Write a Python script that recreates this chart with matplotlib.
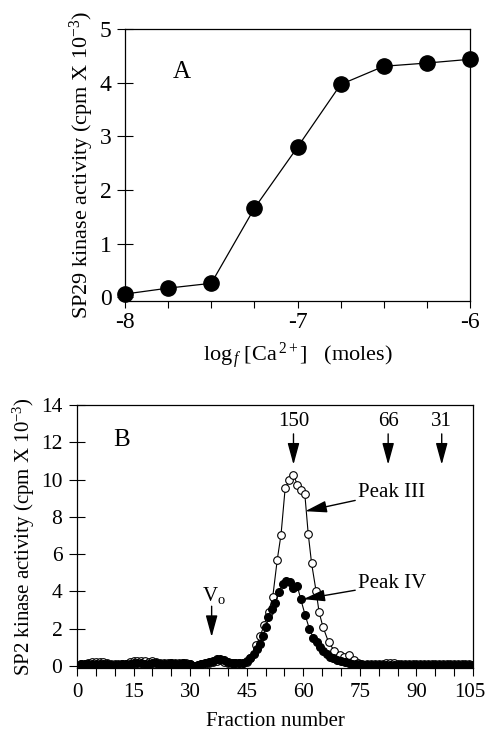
import matplotlib
matplotlib.use('Agg')
import numpy as np
from matplotlib import pyplot as plt
from matplotlib import transforms
from matplotlib.ticker import MultipleLocator

plt.rcParams['font.family'] = ['Liberation Serif', 'DejaVu Serif']
plt.rcParams['mathtext.fontset'] = 'custom'
plt.rcParams['mathtext.rm'] = 'Liberation Serif'
plt.rcParams['mathtext.it'] = 'Liberation Serif:italic'
plt.rcParams['axes.unicode_minus'] = False

# Panel A: SP29 kinase activity vs log free Ca2+
log_ca = [-8.0, -7.75, -7.5, -7.25, -7.0, -6.75, -6.5, -6.25, -6.0]
sp29_activity = [0.06, 0.17, 0.26, 1.66, 2.80, 3.97, 4.31, 4.37, 4.44]

# Panel B: gel filtration profile (fraction number vs activity)
peak3_frac = list(range(1, 47)) + [
    47.5, 48.6, 49.6, 50.8, 51.9, 53.1, 54.1, 55.2, 56.3, 57.4, 58.4, 59.3,
    60.4, 61.3, 62.2, 63.4, 64.2, 65.2, 66.7, 68.2, 69.6, 70.8, 72.1, 73.5,
    74.5, 75.5] + list(range(77, 106))
peak3_act = [
    0.10, 0.10, 0.15, 0.20, 0.20, 0.20, 0.20, 0.18, 0.12, 0.10,
    0.10, 0.10, 0.12, 0.20, 0.25, 0.28, 0.28, 0.25, 0.22, 0.25,
    0.20, 0.18, 0.15, 0.15, 0.18, 0.15, 0.15, 0.18, 0.15, 0.12,
    -0.05, 0.05, 0.10, 0.12, 0.15, 0.20, 0.25, 0.30, 0.22, 0.15,
    0.15, 0.15, 0.15, 0.15, 0.20, 0.40,
    1.10, 1.60, 2.20, 2.90, 3.70, 5.70, 7.05, 9.55, 9.96, 10.26, 9.73, 9.46,
    9.23, 7.10, 5.50, 4.00, 2.87, 2.10, 1.27, 0.82, 0.60, 0.45, 0.58, 0.30,
    0.15, 0.12,
    0.12, 0.12, 0.12, 0.12, 0.12, 0.15, 0.15, 0.15, 0.12, 0.12,
    0.12, 0.12, 0.12, 0.12, 0.10, 0.10, 0.10, 0.10, 0.10, 0.08,
    0.10, 0.08, 0.08, 0.08, 0.08, 0.08, 0.08, 0.08, 0.05]

peak4_frac = list(range(1, 46)) + [
    46.0, 46.8, 47.6, 48.5, 49.2, 50.1, 50.7, 51.6, 52.5, 53.6, 54.5, 55.4,
    56.5, 57.4, 58.4, 59.3, 60.5, 61.6, 62.7, 63.6, 64.4, 65.3, 66.2, 67.1,
    68.0, 69.0, 70.0, 71.0, 72.0, 73.0, 74.0, 75.0] + list(range(76, 106))
peak4_act = [
    0.10, 0.12, 0.10, 0.10, 0.10, 0.10, 0.08, 0.08, 0.05, 0.05,
    0.05, 0.08, 0.10, 0.12, 0.15, 0.15, 0.15, 0.12, 0.12, 0.15,
    0.15, 0.10, 0.10, 0.12, 0.15, 0.10, 0.10, 0.15, 0.12, 0.08,
    0.00, 0.05, 0.10, 0.15, 0.20, 0.25, 0.35, 0.38, 0.30, 0.20,
    0.15, 0.15, 0.15, 0.18, 0.25,
    0.40, 0.64, 0.91, 1.18, 1.59, 2.07, 2.60, 3.05, 3.40, 3.94, 4.38, 4.56,
    4.50, 4.20, 4.29, 3.60, 2.72, 2.00, 1.48, 1.27, 1.00, 0.80, 0.62, 0.50,
    0.40, 0.32, 0.25, 0.20, 0.15, 0.12, 0.10, 0.08,
    0.05, 0.05, 0.05, 0.05, 0.05, 0.05, 0.05, 0.05, 0.05, 0.05,
    0.05, 0.05, 0.05, 0.05, 0.05, 0.05, 0.05, 0.05, 0.05, 0.05,
    0.05, 0.05, 0.05, 0.05, 0.05, 0.05, 0.05, 0.05, 0.05, 0.05]

# size markers: label, fraction
markers = [('150', 57.4), ('66', 82.5), ('31', 96.7)]
void_frac = 35.7

fig = plt.figure(figsize=(4.86, 7.32), dpi=100)
ax1 = fig.add_axes([0.2572, 0.5888, 0.7099, 0.3712])
ax2 = fig.add_axes([0.1584, 0.0878, 0.8149, 0.3589])

# --- panel A
ax1.plot(log_ca, sp29_activity, '-o', color='black', lw=0.9, ms=11,
         clip_on=False, zorder=3)
ax1.set_xlim(-8, -6)
ax1.set_ylim(-0.07, 5)
ax1.set_xticks([-8, -7, -6])
ax1.set_xticklabels(['-8', '-7', '-6'])
ax1.xaxis.set_minor_locator(MultipleLocator(0.25))
ax1.set_yticks([0, 1, 2, 3, 4, 5])
ax1.tick_params(axis='x', which='both', direction='out', length=5, width=0.8,
                labelsize=17, pad=3)
ax1.tick_params(axis='y', direction='inout', length=11, width=0.8,
                labelsize=17, pad=4)
ax1.tick_params(top=False, right=False)
ax1.set_xlabel(r'log$_{\,\mathit{f}}$ [Ca$^{\,2+}$]   (moles)', fontsize=16,
               labelpad=5)
ax1.set_ylabel(r'SP29 kinase activity (cpm X 10$^{-3}$)', fontsize=16,
               labelpad=3)
ax1.text(-7.67, 4.2, 'A', fontsize=18, ha='center', va='center')

# --- panel B
ax2.plot(peak3_frac, peak3_act, '-o', color='black', lw=0.8, ms=5.5,
         mfc='white', mec='black', mew=0.8, zorder=3)
ax2.plot(peak4_frac, peak4_act, '-o', color='black', lw=0.8, ms=5.5,
         mfc='black', mec='black', zorder=4)
ax2.set_xlim(0, 105)
ax2.set_ylim(-0.1, 14)
ax2.set_xticks(np.arange(0, 106, 15))
ax2.xaxis.set_minor_locator(MultipleLocator(5))
ax2.set_yticks(np.arange(0, 15, 2))
ax2.tick_params(axis='x', which='both', direction='out', length=6, width=0.8,
                labelsize=15, pad=5)
ax2.tick_params(axis='y', direction='inout', length=11, width=0.8,
                labelsize=15.5, pad=5)
ax2.set_xlabel('Fraction number', fontsize=15, labelpad=7)
ax2.set_ylabel(r'SP2 kinase activity (cpm X 10$^{-3}$)', fontsize=15,
               labelpad=3)
ax2.text(11.9, 12.1, 'B', fontsize=18, ha='center', va='center')

# nudge the "105" label left so it stays inside the figure
last = ax2.xaxis.get_major_ticks()[-1].label1
last.set_transform(last.get_transform() +
                   transforms.ScaledTranslation(-3 / 100, 0, fig.dpi_scale_trans))

arrow = dict(arrowstyle='-|>,head_length=1.1,head_width=0.3', color='black',
             lw=1.0, mutation_scale=12, shrinkA=0, shrinkB=0)
for label, frac in markers:
    ax2.text(frac, 13.1, label, fontsize=15, ha='center', va='center')
    ax2.annotate('', xy=(frac, 10.8), xytext=(frac, 12.45), arrowprops=arrow)

ax2.text(void_frac + 0.5, 3.75, r'V$_\mathrm{o}$', fontsize=15, ha='center',
         va='center')
ax2.annotate('', xy=(void_frac, 1.55), xytext=(void_frac, 3.2),
             arrowprops=arrow)

ax2.annotate('Peak III', xy=(60.5, 8.3), xytext=(74.5, 9.3), fontsize=15,
             va='center', ha='left', arrowprops=arrow)
ax2.annotate('Peak IV', xy=(60.0, 3.58), xytext=(74.5, 4.4), fontsize=15,
             va='center', ha='left', arrowprops=arrow)

for ax in (ax1, ax2):
    for s in ax.spines.values():
        s.set_linewidth(0.9)

fig.savefig('out.png', dpi=100)
